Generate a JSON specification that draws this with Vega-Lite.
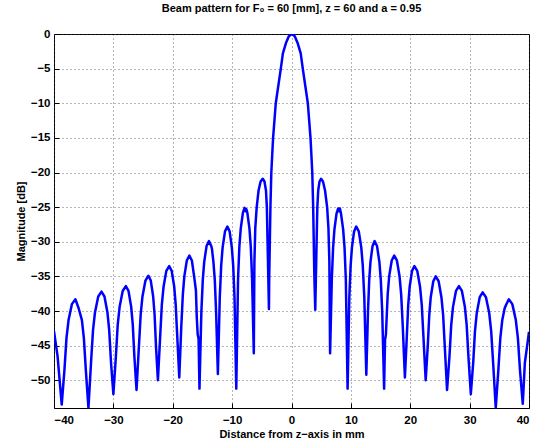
{
  "$schema": "https://vega.github.io/schema/vega-lite/v6.json",
  "width": 475,
  "height": 374,
  "autosize": "none",
  "padding": {"left": 54, "top": 34, "right": 15, "bottom": 40},
  "background": "white",
  "title": {"text": "Beam pattern for F₀ = 60 [mm], z = 60 and a = 0.95", "font": "Liberation Sans", "fontSize": 11, "fontWeight": "bold", "color": "black", "offset": 14},
  "config": {
    "view": {"stroke": "black", "strokeWidth": 1},
    "axis": {"labelFont": "Liberation Sans", "labelFontSize": 11.5, "labelFontWeight": "bold", "labelColor": "black", "titleFont": "Liberation Sans", "titleFontSize": 11, "titleFontWeight": "bold", "titleColor": "black", "domain": false, "ticks": true, "tickSize": -5, "tickColor": "black", "tickWidth": 1, "grid": true, "gridColor": "#444", "gridDash": [1, 3], "gridOpacity": 0.8, "gridWidth": 1}
  },
  "data": {"values": [
    {"x":-40,"y":-42.9},{"x":-39.4,"y":-46.5},{"x":-38.7,"y":-53.5},
    {"x":-38.24,"y":-48.5},{"x":-37.9,"y":-43.9},{"x":-37.55,"y":-41.3},{"x":-36.98,"y":-39.0},{"x":-36.4,"y":-38.3},{"x":-35.85,"y":-39.6},{"x":-35.3,"y":-41.3},{"x":-34.97,"y":-43.9},{"x":-34.64,"y":-48.5},{"x":-34.2,"y":-54},
    {"x":-33.76,"y":-47.4},{"x":-33.43,"y":-42.8},{"x":-33.1,"y":-40.2},{"x":-32.55,"y":-37.9},{"x":-32.0,"y":-37.2},{"x":-31.5,"y":-37.9},{"x":-31.0,"y":-40.2},{"x":-30.7,"y":-42.8},{"x":-30.4,"y":-47.4},{"x":-30.0,"y":-52.0},
    {"x":-29.58,"y":-46.6},{"x":-29.27,"y":-42.0},{"x":-28.95,"y":-39.4},{"x":-28.43,"y":-37.1},{"x":-27.9,"y":-36.4},{"x":-27.45,"y":-37.1},{"x":-27.0,"y":-39.4},{"x":-26.73,"y":-42.0},{"x":-26.46,"y":-46.6},{"x":-26.1,"y":-51.4},
    {"x":-25.7,"y":-45.1},{"x":-25.4,"y":-40.5},{"x":-25.1,"y":-37.9},{"x":-24.6,"y":-35.6},{"x":-24.1,"y":-34.9},{"x":-23.7,"y":-35.6},{"x":-23.3,"y":-37.9},{"x":-23.06,"y":-40.5},{"x":-22.82,"y":-45.1},{"x":-22.5,"y":-50.0},
    {"x":-22.12,"y":-43.7},{"x":-21.84,"y":-39.1},{"x":-21.55,"y":-36.5},{"x":-21.08,"y":-34.2},{"x":-20.6,"y":-33.5},{"x":-20.18,"y":-34.2},{"x":-19.75,"y":-36.5},{"x":-19.5,"y":-39.1},{"x":-19.24,"y":-43.7},{"x":-18.9,"y":-49.6},
    {"x":-18.56,"y":-42.2},{"x":-18.3,"y":-37.6},{"x":-18.05,"y":-35.0},{"x":-17.63,"y":-32.7},{"x":-17.2,"y":-32.0},{"x":-16.78,"y":-32.7},{"x":-16.4,"y":-35.0},{"x":-16.1,"y":-37.0},{"x":-15.95,"y":-41.0},{"x":-15.8,"y":-43.4},{"x":-15.65,"y":-44.0},{"x":-15.5,"y":-51.2},
    {"x":-15.18,"y":-40.1},{"x":-14.94,"y":-35.5},{"x":-14.7,"y":-32.9},{"x":-14.3,"y":-30.6},{"x":-13.9,"y":-29.9},{"x":-13.52,"y":-30.6},{"x":-13.4,"y":-31.0},{"x":-13.15,"y":-32.9},{"x":-12.92,"y":-35.5},{"x":-12.7,"y":-40.1},{"x":-12.4,"y":-49.1},
    {"x":-12.08,"y":-38.0},{"x":-11.84,"y":-33.4},{"x":-11.6,"y":-30.8},{"x":-11.2,"y":-28.5},{"x":-10.8,"y":-27.8},{"x":-10.42,"y":-28.5},{"x":-10.05,"y":-30.8},{"x":-9.82,"y":-33.4},{"x":-9.6,"y":-38.0},{"x":-9.3,"y":-51.2},
    {"x":-9.0,"y":-35.3},{"x":-8.78,"y":-30.7},{"x":-8.55,"y":-28.1},{"x":-8.18,"y":-25.8},{"x":-7.9,"y":-25.1},{"x":-7.75,"y":-25.6},{"x":-7.6,"y":-25.3},{"x":-7.44,"y":-25.8},{"x":-7.08,"y":-28.1},{"x":-6.86,"y":-30.7},{"x":-6.64,"y":-35.3},{"x":-6.35,"y":-46.1},
    {"x":-6.25,"y":-33.0},{"x":-6.1,"y":-28.0},{"x":-5.86,"y":-25.0},{"x":-5.55,"y":-22.6},{"x":-5.2,"y":-21.3},{"x":-4.85,"y":-20.9},{"x":-4.55,"y":-21.3},{"x":-4.3,"y":-22.6},{"x":-4.15,"y":-25.0},{"x":-4.03,"y":-30.0},{"x":-3.8,"y":-39.7},
    {"x":-3.75,"y":-35},{"x":-3.65,"y":-30},{"x":-3.55,"y":-25},{"x":-3.4,"y":-20},{"x":-3.1,"y":-15},{"x":-2.65,"y":-10},{"x":-1.8,"y":-5},{"x":-1.45,"y":-2.8},{"x":-0.95,"y":-1.35},{"x":-0.45,"y":-0.33},{"x":0.05,"y":0},{"x":0.55,"y":-0.33},{"x":1.05,"y":-1.35},{"x":1.55,"y":-2.8},{"x":1.9,"y":-5},{"x":2.75,"y":-10},{"x":3.2,"y":-15},{"x":3.5,"y":-20},{"x":3.65,"y":-25},{"x":3.75,"y":-30},{"x":3.85,"y":-35},{"x":4.0,"y":-39.8},
    {"x":4.23,"y":-30.0},{"x":4.35,"y":-25.0},{"x":4.5,"y":-22.6},{"x":4.72,"y":-21.3},{"x":4.97,"y":-20.9},{"x":5.3,"y":-21.3},{"x":5.65,"y":-22.6},{"x":6.0,"y":-25.0},{"x":6.22,"y":-28.0},{"x":6.38,"y":-33.0},{"x":6.5,"y":-46.1},
    {"x":6.79,"y":-35.4},{"x":7.01,"y":-30.8},{"x":7.23,"y":-28.2},{"x":7.59,"y":-25.9},{"x":7.85,"y":-25.2},{"x":8.0,"y":-25.6},{"x":8.15,"y":-25.2},{"x":8.33,"y":-25.9},{"x":8.7,"y":-28.2},{"x":8.93,"y":-30.8},{"x":9.15,"y":-35.4},{"x":9.45,"y":-51.2},
    {"x":9.74,"y":-38.0},{"x":9.96,"y":-33.4},{"x":10.18,"y":-30.8},{"x":10.54,"y":-28.5},{"x":10.9,"y":-27.8},{"x":11.33,"y":-28.5},{"x":11.75,"y":-30.8},{"x":12.0,"y":-33.4},{"x":12.26,"y":-38.0},{"x":12.6,"y":-49.2},
    {"x":12.88,"y":-40.1},{"x":13.09,"y":-35.5},{"x":13.3,"y":-32.9},{"x":13.65,"y":-30.6},{"x":14.0,"y":-29.9},{"x":14.4,"y":-30.6},{"x":14.8,"y":-32.9},{"x":15.04,"y":-35.5},{"x":15.28,"y":-40.1},{"x":15.6,"y":-51.2},
    {"x":15.75,"y":-44.2},{"x":15.9,"y":-43.4},{"x":16.05,"y":-40.5},{"x":16.2,"y":-37.6},{"x":16.45,"y":-35.0},{"x":16.88,"y":-32.7},{"x":17.3,"y":-32.0},{"x":17.75,"y":-32.7},{"x":18.2,"y":-35.0},{"x":18.47,"y":-37.6},{"x":18.74,"y":-42.2},{"x":19.1,"y":-49.6},
    {"x":19.42,"y":-43.7},{"x":19.66,"y":-39.1},{"x":19.9,"y":-36.5},{"x":20.3,"y":-34.2},{"x":20.7,"y":-33.5},{"x":21.18,"y":-34.2},{"x":21.65,"y":-36.5},{"x":21.94,"y":-39.1},{"x":22.22,"y":-43.7},{"x":22.6,"y":-50.0},
    {"x":22.94,"y":-45.2},{"x":23.2,"y":-40.6},{"x":23.45,"y":-38.0},{"x":23.88,"y":-35.7},{"x":24.3,"y":-35.0},{"x":24.78,"y":-35.7},{"x":25.25,"y":-38.0},{"x":25.54,"y":-40.6},{"x":25.82,"y":-45.2},{"x":26.2,"y":-51.4},
    {"x":26.6,"y":-46.6},{"x":26.9,"y":-42.0},{"x":27.2,"y":-39.4},{"x":27.7,"y":-37.1},{"x":28.2,"y":-36.4},{"x":28.7,"y":-37.1},{"x":29.2,"y":-39.4},{"x":29.5,"y":-42.0},{"x":29.8,"y":-46.6},{"x":30.2,"y":-52.0},
    {"x":30.6,"y":-47.5},{"x":30.9,"y":-42.9},{"x":31.2,"y":-40.3},{"x":31.7,"y":-38.0},{"x":32.2,"y":-37.3},{"x":32.75,"y":-38.0},{"x":33.3,"y":-40.3},{"x":33.63,"y":-42.9},{"x":33.96,"y":-47.5},{"x":34.4,"y":-54},
    {"x":34.84,"y":-48.5},{"x":35.17,"y":-43.9},{"x":35.5,"y":-41.3},{"x":35.9,"y":-39.6},{"x":36.15,"y":-39.1},{"x":36.6,"y":-38.3},{"x":37.19,"y":-39.0},{"x":37.78,"y":-41.3},{"x":38.13,"y":-43.9},{"x":38.48,"y":-48.5},{"x":38.95,"y":-53.4},
    {"x":39.3,"y":-47.5},{"x":40,"y":-43.0}
  ]},
  "mark": {"type": "line", "color": "#0000ff", "strokeWidth": 2.5, "clip": true, "strokeJoin": "round"},
  "encoding": {
    "x": {"field": "x", "type": "quantitative", "scale": {"domain": [-40, 40], "nice": false}, "axis": {"values": [-40, -30, -20, -10, 0, 10, 20, 30, 40], "title": "Distance from z−axis in mm", "labelPadding": 11, "titlePadding": 3}, "sort": null},
    "y": {"field": "y", "type": "quantitative", "scale": {"domain": [-54, 0], "nice": false, "zero": false}, "axis": {"values": [-50, -45, -40, -35, -30, -25, -20, -15, -10, -5, 0], "title": "Magnitude [dB]", "labelPadding": 9, "titlePadding": 4}}
  }
}
